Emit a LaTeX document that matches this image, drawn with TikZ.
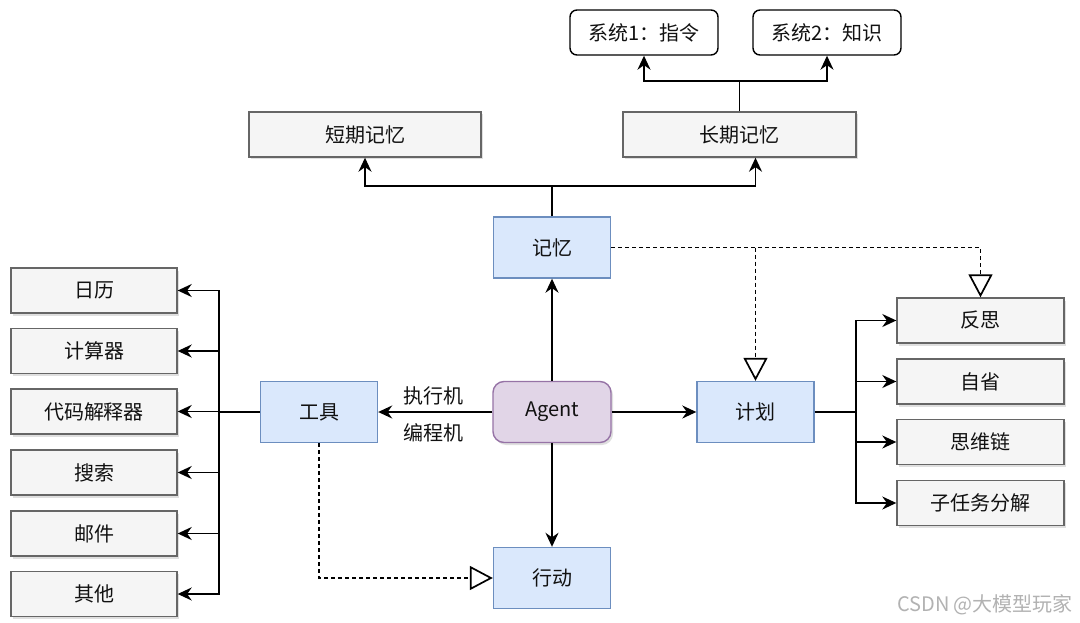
\documentclass[tikz,border=0pt]{standalone}
\usepackage{fontspec}
\setmainfont{Noto Sans CJK SC}
\usetikzlibrary{arrows.meta,shadows}
\definecolor{bluef}{HTML}{DAE8FC}
\definecolor{blued}{HTML}{6C8EBF}
\definecolor{purf}{HTML}{E1D5E7}
\definecolor{purd}{HTML}{9673A6}
\definecolor{grayf}{HTML}{F5F5F5}
\definecolor{grayd}{HTML}{666666}
\definecolor{txt}{HTML}{111111}
\begin{document}
\begin{tikzpicture}[x=1pt,y=-1pt,
  base/.style={draw, line width=1.4pt, inner sep=0pt, text=txt, font=\fontsize{20}{22}\selectfont},
  shad/.style={drop shadow={opacity=0.25, shadow xshift=2pt, shadow yshift=-2.5pt}},
  graybox/.style={base, fill=grayf, draw=grayd, shad, minimum height=45pt},
  bluebox/.style={base, fill=bluef, draw=blued, minimum width=117pt, minimum height=61pt},
  sysbox/.style={base, fill=white, draw=black, rounded corners=7pt, minimum width=148pt, minimum height=45pt},
  agentbox/.style={base, fill=purf, draw=purd, rounded corners=11pt, shad, minimum width=118pt, minimum height=61pt},
  conn/.style={line width=1.7pt, draw=black},
  arr/.style={conn, -{Stealth[length=14pt,width=13pt]}},
  darr/.style={conn, dash pattern=on 4pt off 3pt, -{Triangle[open,length=23pt,width=24pt,fill=white]}},
  lbl/.style={font=\fontsize{20}{22}\selectfont, text=txt, inner sep=0pt}
]
\useasboundingbox (0,0) rectangle (1080,623);
\fill[white] (0,0) rectangle (1080,623);

% top systems
\node[sysbox] (sys1) at (644,32.5) {系统1：指令};
\node[sysbox] (sys2) at (827,32.5) {系统2：知识};

% memory boxes
\node[graybox, minimum width=232pt] (short) at (365,134.5) {短期记忆};
\node[graybox, minimum width=233pt] (long) at (739.5,134.5) {长期记忆};

% core
\node[bluebox] (mem) at (552,247.5) {记忆};
\node[bluebox] (tool) at (319,412) {工具};
\node[agentbox] (agent) at (552,412) {Agent};
\node[bluebox] (plan) at (755.5,412) {计划};
\node[bluebox] (act) at (552,578) {行动};

% left tools
\node[graybox, minimum width=166pt] (t1) at (94,290.5) {日历};
\node[graybox, minimum width=166pt] (t2) at (94,351) {计算器};
\node[graybox, minimum width=166pt] (t3) at (94,411.5) {代码解释器};
\node[graybox, minimum width=166pt] (t4) at (94,472.5) {搜索};
\node[graybox, minimum width=166pt] (t5) at (94,533.5) {邮件};
\node[graybox, minimum width=166pt] (t6) at (94,594) {其他};

% right plans
\node[graybox, minimum width=167pt] (p1) at (980.5,320.5) {反思};
\node[graybox, minimum width=167pt] (p2) at (980.5,381.5) {自省};
\node[graybox, minimum width=167pt] (p3) at (980.5,442) {思维链};
\node[graybox, minimum width=167pt] (p4) at (980.5,503) {子任务分解};

% labels
\node[lbl] (l1) at (433,396) {执行机};
\node[lbl] (l2) at (433,433) {编程机};

% long -> systems
\coordinate (j1) at ([yshift=30pt]long.north);
\draw[conn] (long.north) -- (j1);
\draw[arr] (j1) -| (sys1.south);
\draw[arr] (j1) -| (sys2.south);

% memory -> short/long
\coordinate (j2) at ([yshift=30pt]mem.north);
\coordinate (lt) at ([xshift=16pt]long.south);
\draw[conn] (mem.north) -- (j2);
\draw[arr] (j2) -| (short.south);
\draw[arr] (j2) -| (lt);

% agent connections
\draw[arr] (agent.north) -- (mem.south);
\draw[arr] (agent.west) -- (tool.east);
\draw[arr] (agent.east) -- (plan.west);
\draw[arr] (agent.south) -- (act.north);

% tools bus
\coordinate (lb) at (219,412);
\draw[conn] (tool.west) -- (lb);
\foreach \t in {t1,t2,t3,t4,t5,t6} {\draw[arr] (lb) |- (\t.east);}

% plan bus
\coordinate (rb) at (856,412);
\draw[conn] (plan.east) -- (rb);
\foreach \p in {p1,p2,p3,p4} {\draw[arr] (rb) |- (\p.west);}

% dashed
\coordinate (d1) at (plan.north |- mem.east);
\draw[darr] (mem.east) -| (p1.north);
\draw[darr] (d1) -- (plan.north);
\draw[darr] (tool.south) |- (act.west);

% watermark
\node[font=\fontsize{20}{22}\selectfont, text=black!30, inner sep=0pt] (wm) at (985,605) {CSDN @大模型玩家};
\end{tikzpicture}
\end{document}
